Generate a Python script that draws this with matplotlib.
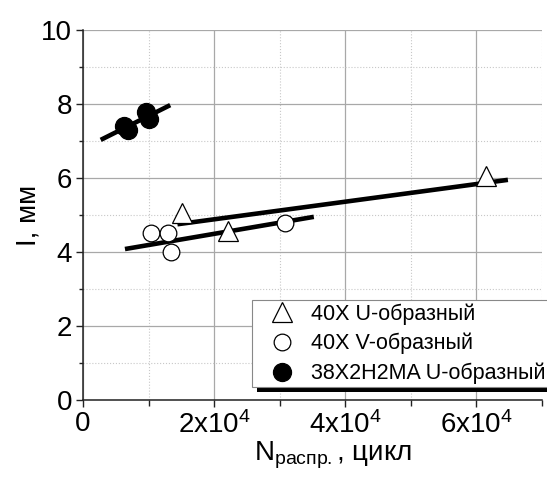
import matplotlib
matplotlib.use('Agg')
import matplotlib.pyplot as plt
from matplotlib.patches import Rectangle
from matplotlib.ticker import MultipleLocator
import numpy as np

plt.rcParams['font.family'] = ['Liberation Sans', 'DejaVu Sans']
plt.rcParams['mathtext.fontset'] = 'custom'
plt.rcParams['mathtext.rm'] = 'Liberation Sans'
plt.rcParams['mathtext.it'] = 'Liberation Sans'

# data
u_x = [1.51e4, 2.21e4, 6.15e4]          # 40X U-образный (triangles)
u_y = [5.06, 4.58, 6.05]
v_x = [1.04e4, 1.30e4, 1.34e4, 3.08e4]  # 40X V-образный (open circles)
v_y = [4.51, 4.51, 3.99, 4.79]
m_x = [0.63e4, 0.69e4, 0.96e4, 1.00e4]  # 38X2H2MA U-образный (filled)
m_y = [7.41, 7.30, 7.79, 7.59]

# fitted lines, end points
fit_u_x = [1.44e4, 6.48e4]
fit_u_y = [4.75, 5.95]
fit_v_x = [0.64e4, 3.52e4]
fit_v_y = [4.08, 4.95]
fit_m_x = [0.27e4, 1.33e4]
fit_m_y = [7.03, 7.97]

labels = ['40X U-образный', '40X V-образный', '38X2H2MA U-образный']
xticks = [0, 2e4, 4e4, 6e4]
xtick_labels = ['0', '2x10$^{4}$', '4x10$^{4}$', '6x10$^{4}$']
yticks = [0, 2, 4, 6, 8, 10]

fig = plt.figure(figsize=(5.47, 4.78), dpi=100)
ax = fig.add_axes([83 / 547, 78 / 478, 459 / 547, 370 / 478])

ax.plot(fit_u_x, fit_u_y, color='black', lw=3.3, solid_capstyle='butt', zorder=3)
ax.plot(fit_v_x, fit_v_y, color='black', lw=3.3, solid_capstyle='butt', zorder=3)
ax.plot(fit_m_x, fit_m_y, color='black', lw=3.3, solid_capstyle='butt', zorder=3)

h1, = ax.plot(u_x, u_y, ls='none', marker='^', ms=14, mfc='white', mec='black',
              mew=0.9, zorder=4, label=labels[0])
h2, = ax.plot(v_x, v_y, ls='none', marker='o', ms=12, mfc='white', mec='black',
              mew=0.9, zorder=4, label=labels[1])
h3, = ax.plot(m_x, m_y, ls='none', marker='o', ms=13, mfc='black', mec='black',
              mew=0.9, zorder=4, label=labels[2])

ax.set_xlim(0, 7e4)
ax.set_ylim(0, 10)
ax.set_xticks(xticks)
ax.set_xticklabels(xtick_labels)
ax.set_yticks(yticks)
ax.xaxis.set_minor_locator(MultipleLocator(1e4))
ax.yaxis.set_minor_locator(MultipleLocator(1))

ax.grid(which='major', color='#a8a8a8', lw=0.9, ls='-')
ax.grid(which='minor', color='#c8c8c8', lw=0.8, ls=':')
ax.set_axisbelow(True)

for s in ['top', 'right']:
    ax.spines[s].set_visible(False)
for s in ['left', 'bottom']:
    ax.spines[s].set_linewidth(1.1)
    ax.spines[s].set_color('#222222')

ax.tick_params(which='major', direction='out', length=5, width=1, labelsize=20,
               pad=3, color='#222222')
ax.tick_params(which='minor', direction='out', length=3, width=1, color='#222222')
ax.tick_params(axis='x', which='minor', length=4)

ax.set_xlabel('N$_{\\mathrm{распр.}}$, цикл', fontsize=20)
ax.xaxis.set_label_coords(0.545, -0.106)
ax.set_ylabel('I, мм', fontsize=20)
ax.yaxis.set_label_coords(-0.09, 0.5)

leg = fig.legend(handles=[h1, h2, h3], loc='upper left',
                 bbox_to_anchor=(252 / 547, 1 - 300 / 478),
                 fontsize=15.5, frameon=True, fancybox=False, borderpad=0.15,
                 handlelength=2.5, handletextpad=0.1, labelspacing=0.38,
                 borderaxespad=0, numpoints=1, framealpha=1)
leg.get_frame().set_edgecolor('#888888')
leg.get_frame().set_facecolor('white')
leg.get_frame().set_linewidth(0.8)
leg.set_zorder(10)

# shadow under the legend box
fig.canvas.draw()
bb = leg.get_window_extent()
shadow = Rectangle((bb.x0 + 5, bb.y0 - 5), bb.width, bb.height, transform=None,
                   facecolor='black', edgecolor='none', zorder=9)
fig.patches.append(shadow)

fig.savefig('out.png', dpi=100)
